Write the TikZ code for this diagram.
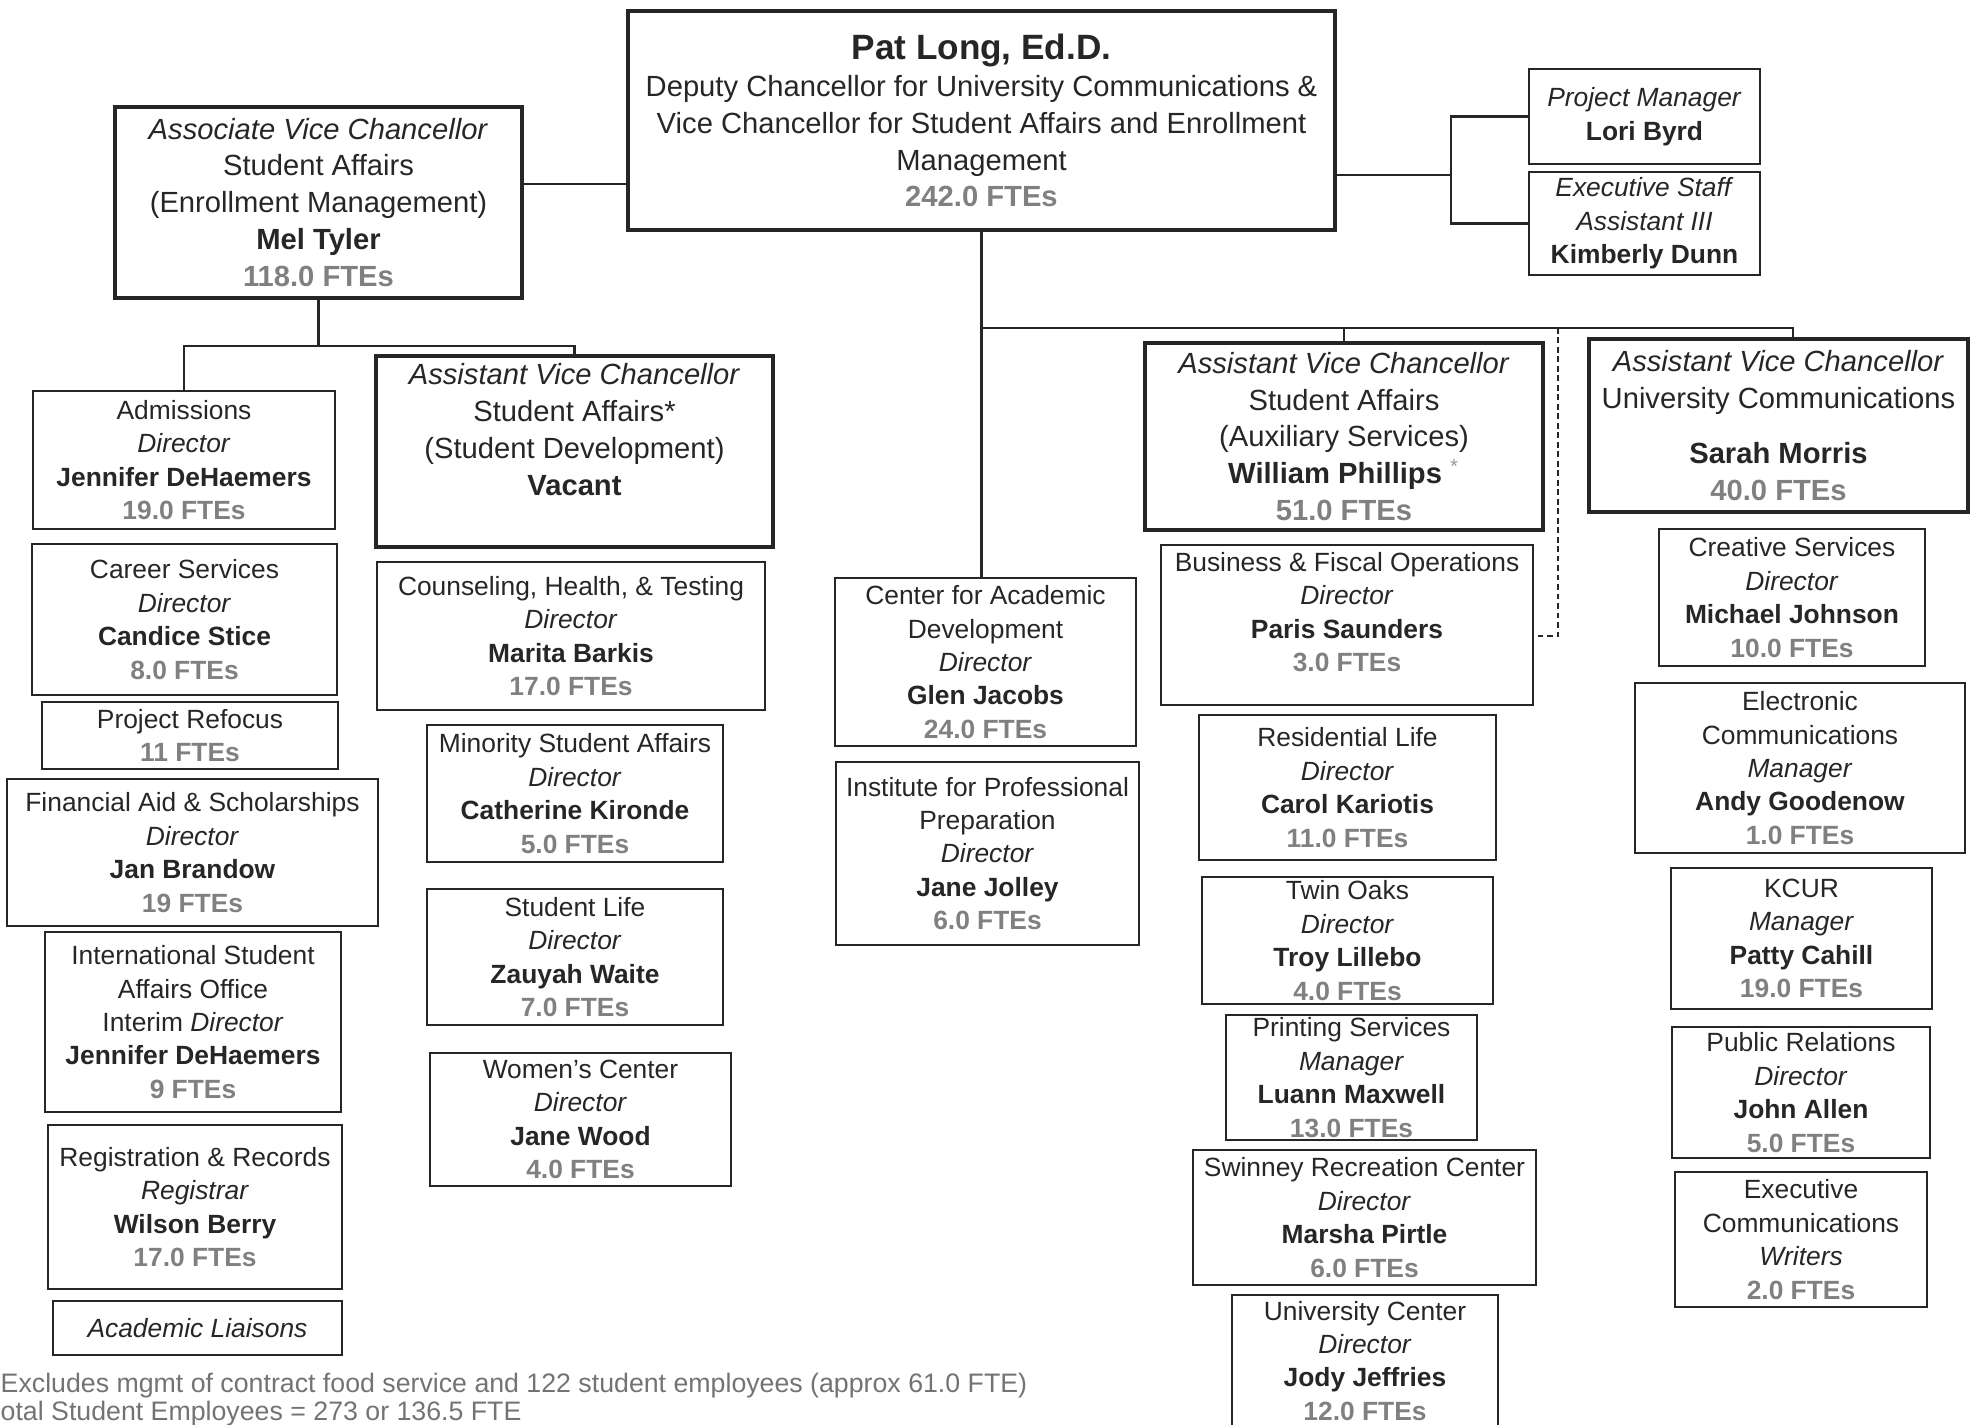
\documentclass[tikz,border=0pt]{standalone}
\usepackage{fontspec}
\setmainfont{Liberation Sans}
\definecolor{ftegray}{gray}{0.5}
\definecolor{inkgray}{gray}{0.15}
\newcommand{\role}[1]{\textit{#1}}
\newcommand{\who}[1]{\textbf{#1}}
\newcommand{\fte}[1]{\textbf{\color{ftegray}#1}}
\begin{document}
\begin{tikzpicture}[x=0.01cm, y=-0.01cm, inkgray]
\tikzset{unit/.style = {draw=inkgray, line width=0.6pt, align=center, inner sep=0pt, text=inkgray, font=\fontsize{7.5}{9.5}\selectfont},
	head/.style = {unit, line width=1.3pt, font=\fontsize{8.3}{10.5}\selectfont},
	link/.style = {draw=inkgray, line width=0.6pt},
	note/.style = {inner sep=0pt, text=black!55, font=\fontsize{7.6}{9.5}\selectfont}}

	\useasboundingbox (0,0) rectangle (1971,1425);
	\clip (0,0) rectangle (1971,1425);

	% top
	\node[head, minimum width=7.07cm, minimum height=2.19cm] (patlong) at (981.5,120.5) {{\fontsize{10}{12}\selectfont\who{Pat Long, Ed.D.}}\\ Deputy Chancellor for University Communications \&\\ Vice Chancellor for Student Affairs and Enrollment\\ Management\\ \fte{242.0 FTEs}};
	\node[head, minimum width=4.07cm, minimum height=1.91cm] (enroll) at (318.5,202.5) {\role{Associate Vice Chancellor}\\ Student Affairs\\ (Enrollment Management)\\ \who{Mel Tyler}\\ \fte{118.0 FTEs}};
	\node[unit, minimum width=2.31cm, minimum height=0.95cm] (pm) at (1644.5,116.5) {\role{Project Manager}\\ \who{Lori Byrd}};
	\node[unit, minimum width=2.31cm, minimum height=1.03cm] (esa) at (1644.5,223.5) {\role{Executive Staff}\\ \role{Assistant III}\\ \who{Kimberly Dunn}};

	% enrollment management
	\node[unit, minimum width=3.02cm, minimum height=1.38cm] (admissions) at (184,460) {Admissions\\ \role{Director}\\ \who{Jennifer DeHaemers}\\ \fte{19.0 FTEs}};
	\node[unit, minimum width=3.05cm, minimum height=1.51cm] (career) at (184.5,619.5) {Career Services\\ \role{Director}\\ \who{Candice Stice}\\ \fte{8.0 FTEs}};
	\node[unit, minimum width=2.96cm, minimum height=0.67cm] (refocus) at (190,735.5) {Project Refocus\\ \fte{11 FTEs}};
	\node[unit, minimum width=3.71cm, minimum height=1.47cm] (finaid) at (192.5,852.5) {Financial Aid \& Scholarships\\ \role{Director}\\ \who{Jan Brandow}\\ \fte{19 FTEs}};
	\node[unit, minimum width=2.96cm, minimum height=1.80cm] (intl) at (193,1022) {International Student\\ Affairs Office\\ Interim \role{Director}\\ \who{Jennifer DeHaemers}\\ \fte{9 FTEs}};
	\node[unit, minimum width=2.94cm, minimum height=1.64cm] (regis) at (195,1207) {Registration \& Records\\ \role{Registrar}\\ \who{Wilson Berry}\\ \fte{17.0 FTEs}};
	\node[unit, minimum width=2.89cm, minimum height=0.54cm] (liaisons) at (197.5,1328) {\role{Academic Liaisons}};

	% student development
	\node[head, minimum width=3.97cm, minimum height=1.91cm] (studdev) at (574.5,451.5) {\role{Assistant Vice Chancellor}\\ Student Affairs*\\ (Student Development)\\ \who{Vacant}\\[2pt] \mbox{}};
	\node[unit, minimum width=3.88cm, minimum height=1.48cm] (counsel) at (571,636) {Counseling, Health, \& Testing\\ \role{Director}\\ \who{Marita Barkis}\\ \fte{17.0 FTEs}};
	\node[unit, minimum width=2.96cm, minimum height=1.37cm] (minority) at (575,793.5) {Minority Student Affairs\\ \role{Director}\\ \who{Catherine Kironde}\\ \fte{5.0 FTEs}};
	\node[unit, minimum width=2.96cm, minimum height=1.36cm] (stulife) at (575,957) {Student Life\\ \role{Director}\\ \who{Zauyah Waite}\\ \fte{7.0 FTEs}};
	\node[unit, minimum width=3.01cm, minimum height=1.33cm] (women) at (580.5,1119.5) {Women's Center\\ \role{Director}\\ \who{Jane Wood}\\ \fte{4.0 FTEs}};

	% centre column
	\node[unit, minimum width=3.01cm, minimum height=1.68cm] (cad) at (985.5,662) {Center for Academic\\ Development\\ \role{Director}\\ \who{Glen Jacobs}\\ \fte{24.0 FTEs}};
	\node[unit, minimum width=3.03cm, minimum height=1.83cm] (ipp) at (987.5,853.5) {Institute for Professional\\ Preparation\\ \role{Director}\\ \who{Jane Jolley}\\ \fte{6.0 FTEs}};

	% auxiliary services
	\node[head, minimum width=3.98cm, minimum height=1.87cm] (aux) at (1344,436.5) {\role{Assistant Vice Chancellor}\\ Student Affairs\\ (Auxiliary Services)\\ \who{William Phillips} \textsuperscript{\color{black!40}*}\\ \fte{51.0 FTEs}};
	\node[unit, minimum width=3.72cm, minimum height=1.60cm] (business) at (1347,625) {Business \& Fiscal Operations\\ \role{Director}\\ \who{Paris Saunders}\\ \fte{3.0 FTEs}\\[-2pt] \mbox{}};
	\node[unit, minimum width=2.97cm, minimum height=1.45cm] (reslife) at (1347.5,787.5) {Residential Life\\ \role{Director}\\ \who{Carol Kariotis}\\ \fte{11.0 FTEs}};
	\node[unit, minimum width=2.91cm, minimum height=1.27cm] (twinoaks) at (1347.5,940.5) {Twin Oaks\\ \role{Director}\\ \who{Troy Lillebo}\\ \fte{4.0 FTEs}};
	\node[unit, minimum width=2.51cm, minimum height=1.25cm] (printing) at (1351.5,1077.5) {Printing Services\\ \role{Manager}\\ \who{Luann Maxwell}\\ \fte{13.0 FTEs}};
	\node[unit, minimum width=3.43cm, minimum height=1.35cm] (swinney) at (1364.5,1217.5) {Swinney Recreation Center\\ \role{Director}\\ \who{Marsha Pirtle}\\ \fte{6.0 FTEs}};
	\node[unit, minimum width=2.66cm, minimum height=1.54cm] (ucenter) at (1365,1372) {University Center\\ \role{Director}\\ \who{Jody Jeffries}\\ \fte{12.0 FTEs}\\[-3pt] \mbox{}};

	% university communications
	\node[head, minimum width=3.79cm, minimum height=1.73cm] (ucomm) at (1778.5,425.5) {\role{Assistant Vice Chancellor}\\ University Communications\\[5pt] \who{Sarah Morris}\\ \fte{40.0 FTEs}};
	\node[unit, minimum width=2.66cm, minimum height=1.37cm] (creative) at (1792,597.5) {Creative Services\\ \role{Director}\\ \who{Michael Johnson}\\ \fte{10.0 FTEs}};
	\node[unit, minimum width=3.30cm, minimum height=1.70cm] (electronic) at (1800,768) {Electronic\\ Communications\\ \role{Manager}\\ \who{Andy Goodenow}\\ \fte{1.0 FTEs}};
	\node[unit, minimum width=2.61cm, minimum height=1.41cm] (kcur) at (1801.5,938.5) {KCUR\\ \role{Manager}\\ \who{Patty Cahill}\\ \fte{19.0 FTEs}};
	\node[unit, minimum width=2.58cm, minimum height=1.31cm] (pr) at (1801,1092.5) {Public Relations\\ \role{Director}\\ \who{John Allen}\\ \fte{5.0 FTEs}};
	\node[unit, minimum width=2.52cm, minimum height=1.35cm] (execcomm) at (1801,1239.5) {Executive\\ Communications\\ \role{Writers}\\ \fte{2.0 FTEs}};

	% notes
	\node[note, anchor=base west] (fnexcl) at (0,1393) {Excludes mgmt of contract food service and 122 student employees (approx 61.0 FTE)};
	\node[note, anchor=base west] (fntotal) at (0,1421) {otal Student Employees = 273 or 136.5 FTE};

	% connectors
	\coordinate (brk) at (1451,175);
	\coordinate (ebus) at (318.5,346);
	\coordinate (cbus) at (981.5,328);
	\coordinate (ubus) at (1793,328);
	\coordinate (dbus) at (1558,328);

	\draw[link] (enroll.east |- 0,184) -- (patlong.west |- 0,184);
	\draw[link] (patlong.east |- brk) -- (brk);
	\draw[link] (pm.west) -| (brk) |- (esa.west);
	\draw[link] (enroll.south) -- (ebus);
	\draw[link] (admissions.north) |- (ebus) -| (studdev.north);
	\draw[link] (patlong.south) -- (patlong.south |- cad.north);
	\draw[link] (cbus) -| (aux.north);
	\draw[link] (aux.north |- cbus) -- (ubus) -- (ubus |- ucomm.north);
	\draw[link, dash pattern=on 1.6pt off 1.1pt] (dbus) |- (business.east |- 0,636);
\end{tikzpicture}
\end{document}
